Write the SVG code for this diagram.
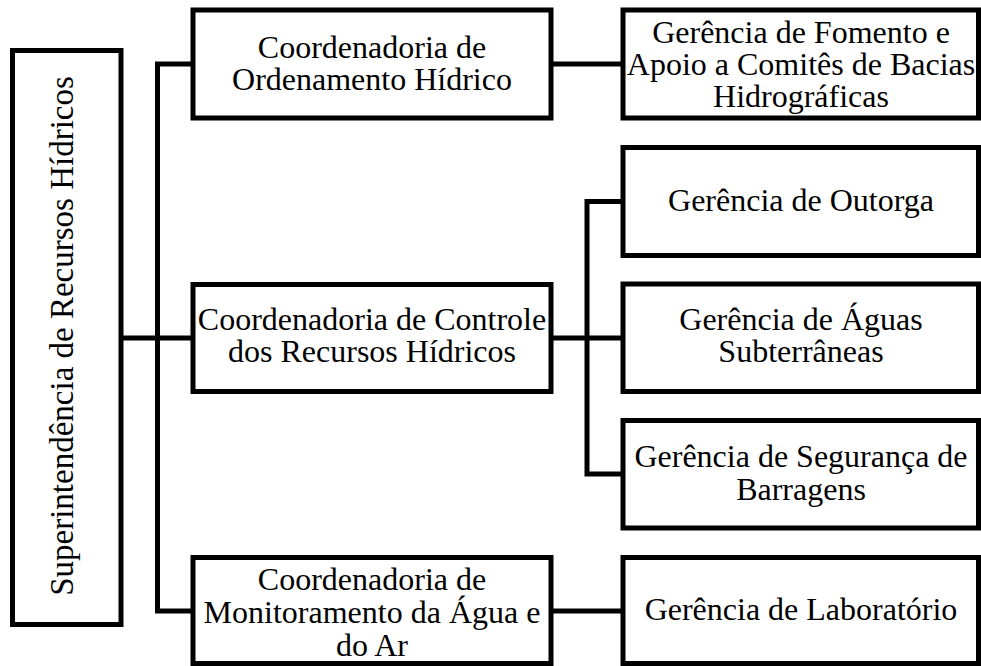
<svg xmlns="http://www.w3.org/2000/svg" width="981" height="666" viewBox="0 0 981 666">
<style>
.box{fill:#ffffff;stroke:#000000;stroke-width:5;stroke-linejoin:miter}
.ln{fill:none;stroke:#000000;stroke-width:5;stroke-linejoin:miter;stroke-linecap:square}
.t{font-family:"Liberation Serif","Times New Roman",serif;font-size:32px;fill:#000000;text-anchor:middle}
.tv{font-size:33px}
</style>
<rect width="981" height="666" fill="#ffffff"/>
<g id="connectors">
<polyline class="ln" points="193,64 157.5,64 157.5,611 190,611"/>
<line class="ln" x1="121" y1="338" x2="190" y2="338"/>
<line class="ln" x1="551" y1="64" x2="621" y2="64"/>
<polyline class="ln" points="621,201.5 587,201.5 587,474 621,474"/>
<line class="ln" x1="551" y1="338" x2="621" y2="338"/>
<line class="ln" x1="551" y1="611" x2="621" y2="611"/>
</g>
<g id="superintendencia">
<rect class="box" x="12.5" y="50.5" width="108.5" height="574"/>
<text class="t tv" transform="translate(73,336) rotate(-90)">Superintendência de Recursos Hídricos</text>
</g>
<g id="coord-ordenamento">
<rect class="box" x="193" y="10" width="358" height="108"/>
<text class="t" x="372" y="58">Coordenadoria de</text>
<text class="t" x="372" y="90">Ordenamento Hídrico</text>
</g>
<g id="coord-controle">
<rect class="box" x="193" y="284.5" width="358" height="107"/>
<text class="t" x="372" y="330">Coordenadoria de Controle</text>
<text class="t" x="372" y="362">dos Recursos Hídricos</text>
</g>
<g id="coord-monitoramento">
<rect class="box" x="193" y="557.5" width="358" height="106"/>
<text class="t" x="372" y="590">Coordenadoria de</text>
<text class="t" x="372" y="623">Monitoramento da Água e</text>
<text class="t" x="372" y="656">do Ar</text>
</g>
<g id="ger-fomento">
<rect class="box" x="623" y="10" width="355.5" height="108"/>
<text class="t" x="801" y="43">Gerência de Fomento e</text>
<text class="t" x="801" y="75">Apoio a Comitês de Bacias</text>
<text class="t" x="801" y="107">Hidrográficas</text>
</g>
<g id="ger-outorga">
<rect class="box" x="623" y="147.5" width="355.5" height="108"/>
<text class="t" x="801" y="211">Gerência de Outorga</text>
</g>
<g id="ger-aguas">
<rect class="box" x="623" y="284" width="355.5" height="107.5"/>
<text class="t" x="801" y="330">Gerência de Águas</text>
<text class="t" x="801" y="362">Subterrâneas</text>
</g>
<g id="ger-seguranca">
<rect class="box" x="623" y="420.5" width="355.5" height="107.5"/>
<text class="t" x="801" y="467">Gerência de Segurança de</text>
<text class="t" x="801" y="500">Barragens</text>
</g>
<g id="ger-laboratorio">
<rect class="box" x="623" y="557.5" width="355.5" height="106"/>
<text class="t" x="801" y="620">Gerência de Laboratório</text>
</g>
</svg>
